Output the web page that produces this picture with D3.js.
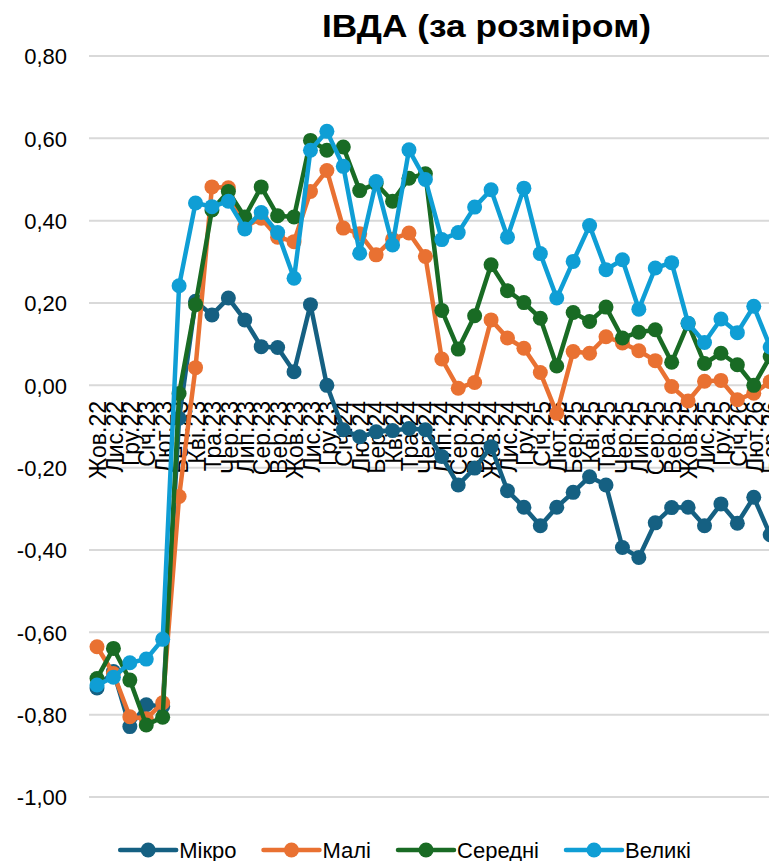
<!DOCTYPE html>
<html>
<head>
<meta charset="utf-8">
<script src="https://cdn.jsdelivr.net/npm/d3@7"></script>
<style>
  html, body { margin: 0; padding: 0; background: #fff; overflow: hidden; }
  svg { display: block; }
</style>
</head>
<body>
<svg id="chart" width="769" height="861"></svg>
<script>
const title = "ІВДА (за розміром)";
const categories = ["Жов.22","Лис.22","Гру.22","Січ.23","Лют.23","Бер.23","Кві.23","Тра.23","Чер.23","Лип.23","Сер.23","Вер.23","Жов.23","Лис.23","Гру.23","Січ.24","Лют.24","Бер.24","Кві.24","Тра.24","Чер.24","Лип.24","Сер.24","Вер.24","Жов.24","Лис.24","Гру.24","Січ.25","Лют.25","Бер.25","Кві.25","Тра.25","Чер.25","Лип.25","Сер.25","Вер.25","Жов.25","Лис.25","Гру.25","Січ.26","Лют.26","Бер.26"];
const seriesNames = ["Мікро","Малі","Середні","Великі"];
const seriesColors = ["#156082","#E97132","#196B24","#0F9ED5"];
const micro  = [-0.735,-0.695,-0.829,-0.776,-0.780,-0.080,0.204,0.171,0.212,0.159,0.094,0.092,0.033,0.196,0.000,-0.108,-0.125,-0.113,-0.110,-0.105,-0.108,-0.173,-0.242,-0.201,-0.149,-0.256,-0.296,-0.341,-0.296,-0.260,-0.222,-0.242,-0.394,-0.418,-0.334,-0.297,-0.296,-0.341,-0.288,-0.335,-0.272,-0.363];
const mali   = [-0.635,-0.700,-0.805,-0.810,-0.771,-0.270,0.043,0.482,0.480,0.385,0.406,0.360,0.349,0.471,0.522,0.382,0.368,0.317,0.355,0.370,0.313,0.064,-0.007,0.007,0.159,0.115,0.090,0.031,-0.068,0.082,0.078,0.118,0.103,0.084,0.060,-0.003,-0.038,0.010,0.012,-0.035,-0.019,0.009];
const seredni= [-0.712,-0.639,-0.716,-0.825,-0.806,-0.020,0.196,0.426,0.471,0.409,0.482,0.412,0.409,0.595,0.571,0.579,0.473,0.490,0.447,0.503,0.514,0.182,0.088,0.169,0.293,0.230,0.201,0.163,0.047,0.177,0.155,0.190,0.115,0.129,0.135,0.056,0.150,0.053,0.078,0.050,0.000,0.070];
const veliki = [-0.728,-0.709,-0.674,-0.665,-0.617,0.242,0.443,0.434,0.447,0.380,0.420,0.371,0.260,0.571,0.617,0.532,0.321,0.495,0.341,0.572,0.500,0.354,0.371,0.433,0.475,0.360,0.479,0.320,0.212,0.301,0.388,0.281,0.305,0.185,0.285,0.298,0.151,0.104,0.161,0.128,0.192,0.093];
const yTicks = [-1.0,-0.8,-0.6,-0.4,-0.2,0.0,0.2,0.4,0.6,0.8];

const seriesValues = [micro, mali, seredni, veliki];
const FONT = "'Liberation Sans', Arial, sans-serif";

const svg = d3.select("#chart");

const x = d3.scalePoint().domain(categories).range([88.8, 778.4]).padding(0.5);
const y = d3.scaleLinear().domain([-1, 0.8]).range([797, 56]);

// gridlines
svg.append("g").selectAll("line").data(yTicks).join("line")
  .attr("x1", 89).attr("x2", 779)
  .attr("y1", d => y(d)).attr("y2", d => y(d))
  .attr("stroke", "#d9d9d9").attr("stroke-width", 2);

// y axis labels
const fmt = d => d3.format(".2f")(d).replace(".", ",").replace("−", "-");
const yAxis = d3.axisLeft(y).tickValues(yTicks).tickFormat(fmt).tickSize(0).tickPadding(0);
const yg = svg.append("g").attr("transform", "translate(67,0)").call(yAxis);
yg.select(".domain").remove();
yg.selectAll("text").attr("font-family", FONT).attr("font-size", 22).attr("fill", "#000").attr("dy", "0.35em");

// x axis labels (rotated)
const xg = svg.append("g");
xg.selectAll("text").data(categories).join("text")
  .attr("transform", d => `translate(${x(d)},401) rotate(-90)`)
  .attr("text-anchor", "end")
  .attr("dy", "0.4em")
  .attr("font-family", FONT).attr("font-size", 23).attr("fill", "#000")
  .text(d => d);

// series
const line = d3.line().x((d, i) => x(categories[i])).y(d => y(d));
seriesValues.forEach((vals, si) => {
  const g = svg.append("g");
  g.append("path").datum(vals)
    .attr("d", line).attr("fill", "none")
    .attr("stroke", seriesColors[si]).attr("stroke-width", 4.5)
    .attr("stroke-linejoin", "round");
  g.selectAll("circle").data(vals).join("circle")
    .attr("cx", (d, i) => x(categories[i])).attr("cy", d => y(d))
    .attr("r", 7.5).attr("fill", seriesColors[si]);
});

// title
const t = svg.append("text")
  .attr("x", 486.5).attr("y", 37)
  .attr("text-anchor", "middle")
  .attr("font-family", FONT).attr("font-weight", "bold").attr("font-size", 32)
  .attr("fill", "#000").text(title);
t.attr("textLength", 329).attr("lengthAdjust", "spacingAndGlyphs");

// legend
const leg = svg.append("g");
let cx = 0;
const items = [];
seriesNames.forEach((name, i) => {
  const g = leg.append("g");
  g.append("line").attr("x1", 0).attr("x2", 56).attr("y1", 0).attr("y2", 0)
    .attr("stroke", seriesColors[i]).attr("stroke-width", 4.5).attr("stroke-linecap", "round");
  g.append("circle").attr("cx", 28).attr("cy", 0).attr("r", 7.5).attr("fill", seriesColors[i]);
  const tx = g.append("text").attr("x", 59).attr("y", 0).attr("dy", "0.35em")
    .attr("font-family", FONT).attr("font-size", 22).attr("fill", "#000").text(name);
  const w = tx.node().getComputedTextLength();
  items.push({g, offset: cx});
  cx += 59 + w + 27;
});
const total = cx - 27;
const startX = 405.5 - total / 2;
items.forEach(it => it.g.attr("transform", `translate(${startX + it.offset},850)`));
</script>
</body>
</html>
